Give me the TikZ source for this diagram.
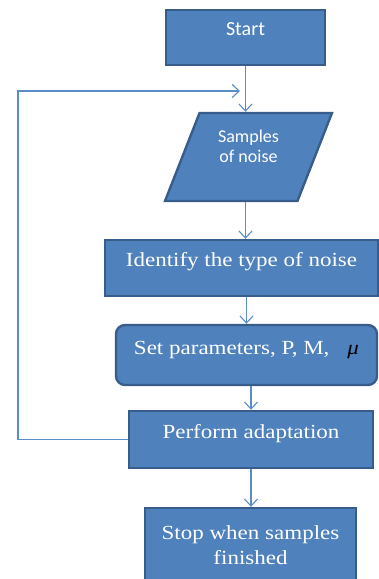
\documentclass[tikz,border=0pt]{standalone}
\usepackage{fontspec}
\setmainfont{Liberation Serif}
\newfontfamily\wideserif[FakeStretch=1.15]{Liberation Serif}
\newfontfamily\calib{Carlito}
\usetikzlibrary{shapes.geometric,arrows.meta}
\definecolor{boxfill}{HTML}{4F81BD}
\definecolor{boxline}{HTML}{385D8A}
\definecolor{arrcol}{HTML}{5A8CC8}
\tikzset{
  box/.style={draw=boxline, fill=boxfill, line width=2.4pt, inner sep=0pt, text=white, align=center},
  serifbig/.style={font=\wideserif\fontsize{20}{25}\selectfont},
  arr/.style={draw=arrcol, line width=1.1pt, -{Straight Barb[length=7pt,width=13pt,line width=1.1pt]}},
  link/.style={draw=arrcol, line width=1.1pt}
}
\begin{document}
\begin{tikzpicture}[x=1pt,y=-1pt]
\useasboundingbox (0,0) rectangle (378,579);
% boxes
\node[box, minimum width=159pt, minimum height=55pt, font=\calib\fontsize{20}{24}\selectfont,
      text height=13pt, text depth=18pt] (start) at (245.5,37.5) {Start};
\node[box, inner sep=4pt, trapezium, trapezium left angle=70, trapezium right angle=110, trapezium stretches=true,
      minimum width=167pt, minimum height=88pt] (samp) at (248.5,157) {\phantom{x}};
\node[text=white, align=center, inner sep=0pt, font=\calib\fontsize{18}{20}\selectfont] (samptxt)
      at ([yshift=11pt]samp.center) {Samples\\of noise};
\node[box, serifbig, minimum width=273pt, minimum height=56pt, text height=13pt, text depth=17pt]
      (ident) at (241.5,268) {Identify the type of noise};
\node[box, serifbig, rounded corners=9pt, minimum width=261pt, minimum height=60pt, text height=13pt, text depth=15pt]
      (setp) at (246.5,355) {Set parameters, P, M,\hspace{18pt}{\color{black}\itshape μ}};
\node[box, serifbig, minimum width=244pt, minimum height=57pt, text height=13pt, text depth=16pt]
      (perf) at (251,439.5) {Perform adaptation};
\node[box, serifbig, minimum width=211pt, minimum height=74pt]
      (stop) at (250.5,545) {Stop when samples\\finished};
% connectors
\draw[arr] (start.south) -- (start.south |- samp.north);
\draw[arr] (start.south |- samp.south) -- (start.south |- ident.north);
\draw[arr] (setp.north |- ident.south) -- (setp.north);
\draw[arr] (perf.north |- setp.south) -- (perf.north);
\draw[arr] (perf.south) -- (perf.south |- stop.north);
\coordinate (lc) at (18,0);
\coordinate (fb) at (240,91);
\draw[arr] (perf.west) -- (perf.west -| lc) |- (fb);
\end{tikzpicture}
\end{document}
